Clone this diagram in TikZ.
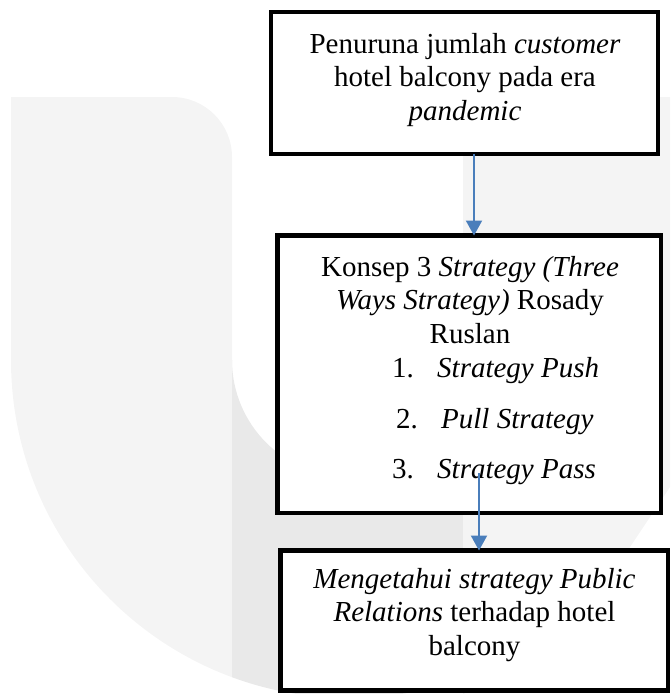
\documentclass[tikz,border=0pt]{standalone}
\usepackage{fontspec}
\setmainfont{Liberation Serif}
\usepackage{xcolor}
\usetikzlibrary{arrows.meta}
\definecolor{wmlight}{RGB}{244,244,244}
\definecolor{wmdark}{RGB}{233,233,233}
\definecolor{arrblue}{RGB}{74,126,187}

\begin{document}
\begin{tikzpicture}[x=1pt,y=-1pt,
    kotak/.style={draw=black,line width=4.5pt,fill=white,rectangle,inner sep=0pt,outer sep=0pt},
    tulisan/.style={align=center,inner sep=0pt,font=\fontsize{29}{33.5}\selectfont},
    panah/.style={draw=arrblue,line width=2pt,-{Triangle[width=16pt,length=15pt]}}]
    \useasboundingbox (0,0) rectangle (670,694);

    % watermark
    \fill[wmlight] (11,361) -- (11,97) [rounded corners=60pt] -- (232,97) -- (232,300) [sharp corners] -- (232,361) -- cycle;
    \begin{scope}
        \clip (0,360) rectangle (232,694);
        \fill[wmlight] (349,360) circle (338pt);
    \end{scope}
    \begin{scope}
        \clip (232,360) rectangle (463,694);
        \fill[wmdark,even odd rule] (349,360) circle (338pt) (349,360) circle (117pt);
    \end{scope}
    \fill[wmlight] (463,97) -- (670,97) -- (670,487) -- (560,652) -- (463,694) -- cycle;

    \node[kotak,minimum width=387pt,minimum height=142pt] (Masalah) at (464.5,83) {};
    \node[kotak,minimum width=383.5pt,minimum height=277.5pt] (Konsep) at (469.25,374.25) {};
    \node[kotak,minimum width=387.5pt,minimum height=140pt] (Tujuan) at (474.25,620.5) {};

    \node[tulisan,anchor=north] (tMasalah) at (465,33) {Penuruna jumlah \textit{customer}\\ hotel balcony pada era\\ \textit{pandemic}};
    \node[tulisan,anchor=north] (tKonsep) at (470,256) {Konsep 3 \textit{Strategy (Three}\\ \textit{Ways Strategy)} Rosady\\ Ruslan};
    \node[tulisan,anchor=base west] (p1) at (392,377) {\makebox[45pt][l]{1.}\textit{Strategy Push}};
    \node[tulisan,anchor=base west] (p2) at (396,428) {\makebox[45pt][l]{2.}\textit{Pull Strategy}};
    \node[tulisan,anchor=base west] (p3) at (392,478) {\makebox[45pt][l]{3.}\textit{Strategy Pass}};
    \node[tulisan,anchor=north] (tTujuan) at (474.5,568) {\textit{Mengetahui strategy Public}\\ \textit{Relations} terhadap hotel\\ balcony};

    \coordinate (k1) at (474,0);
    \coordinate (k2) at (479,473);
    \draw[panah] (k1 |- Masalah.south) -- (k1 |- Konsep.north);
    \draw[panah] (k2) -- (k2 |- Tujuan.north);
\end{tikzpicture}
\end{document}
